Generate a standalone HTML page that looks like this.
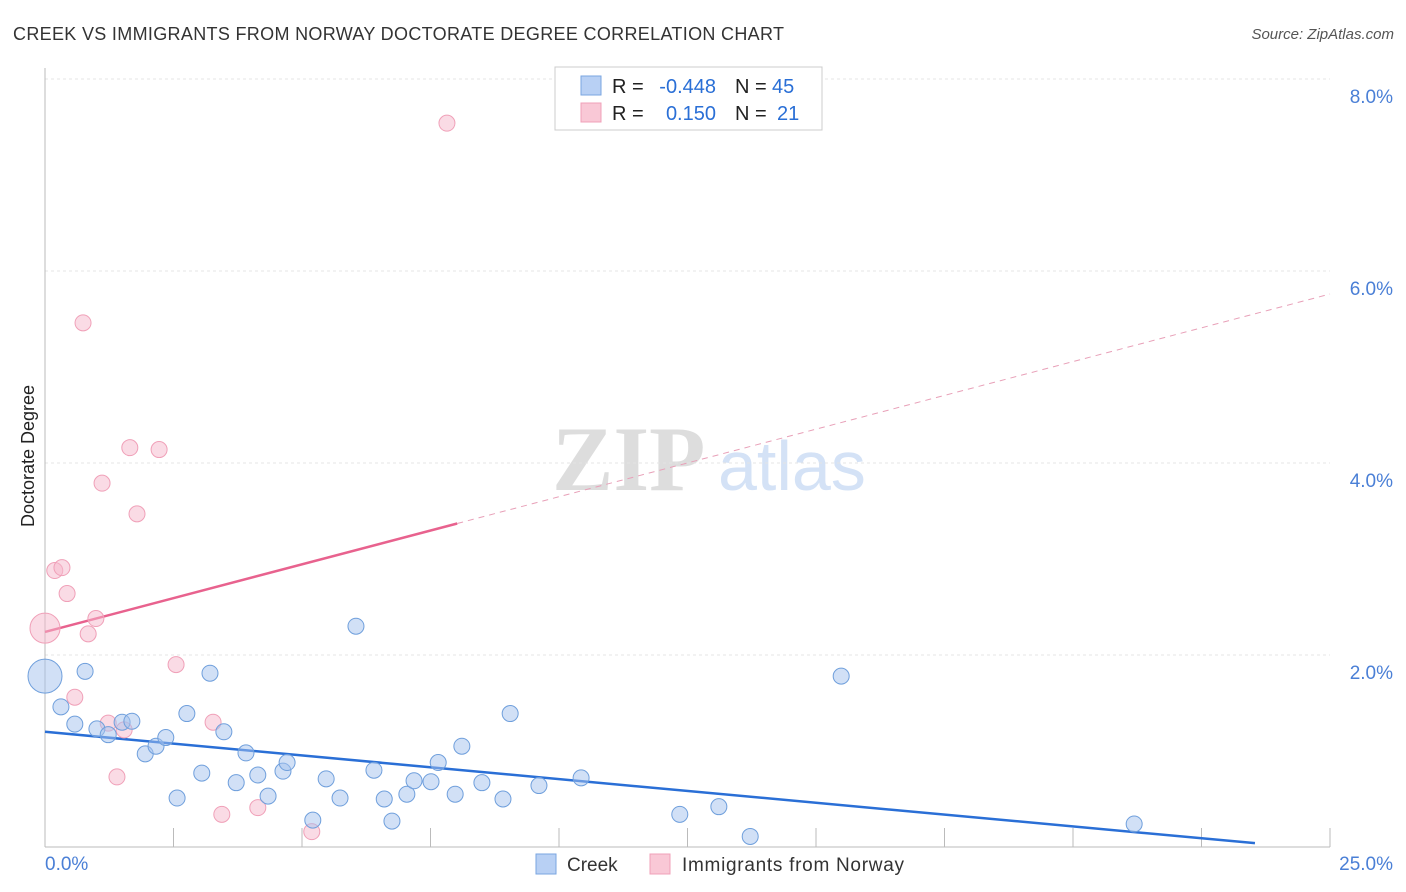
<!DOCTYPE html>
<html><head><meta charset="utf-8"><style>
body{margin:0;background:#fff;font-family:"Liberation Sans",sans-serif;}
</style></head><body>
<svg id="chart" width="1406" height="892" xmlns="http://www.w3.org/2000/svg" style="display:block">
<text x="13" y="40" font-size="18" fill="#333" textLength="771">CREEK VS IMMIGRANTS FROM NORWAY DOCTORATE DEGREE CORRELATION CHART</text>
<text x="1394" y="39" font-size="15" fill="#555" text-anchor="end" font-style="italic">Source: ZipAtlas.com</text>
<text x="552" y="490" font-size="92" fill="#ddd" font-family="Liberation Serif" font-weight="bold">ZIP</text>
<text x="718" y="490" font-size="70" fill="#d4e2f6">atlas</text>
<text transform="translate(34,456) rotate(-90)" font-size="18" fill="#222" text-anchor="middle">Doctorate Degree</text>
<g id="grid"></g><g id="trends"></g><g id="points"></g>
<g>
<rect x="555" y="67" width="267" height="63" fill="#fff" stroke="#ccc"/>
<rect x="581" y="76" width="20" height="19" fill="#b8d0f4" stroke="#7aa6e0"/>
<rect x="581" y="103" width="20" height="19" fill="#f9c8d6" stroke="#f0a0b8"/>
<text x="612" y="93" font-size="20" fill="#222">R =</text>
<text x="716" y="93" font-size="20" fill="#2a6fd6" text-anchor="end">-0.448</text>
<text x="735" y="93" font-size="20" fill="#222">N =</text>
<text x="772" y="93" font-size="20" fill="#2a6fd6">45</text>
<text x="612" y="120" font-size="20" fill="#222">R =</text>
<text x="716" y="120" font-size="20" fill="#2a6fd6" text-anchor="end">0.150</text>
<text x="735" y="120" font-size="20" fill="#222">N =</text>
<text x="777" y="120" font-size="20" fill="#2a6fd6">21</text>
</g>
<g>
<rect x="536" y="854" width="20" height="20" fill="#b8d0f4" stroke="#7aa6e0"/>
<text x="567" y="871" font-size="19" fill="#333">Creek</text>
<rect x="650" y="854" width="20" height="20" fill="#f9c8d6" stroke="#f0a0b8"/>
<text x="682" y="871" font-size="19" fill="#333" textLength="222">Immigrants from Norway</text>
</g>
</svg>
<script>
const blueX=[0,0.78,0.31,0.58,1.01,1.23,1.50,1.69,1.95,2.16,2.35,2.57,2.76,3.05,3.21,3.48,3.72,3.91,4.14,4.34,4.63,4.71,5.21,5.47,5.74,6.05,6.40,6.60,6.75,7.04,7.18,7.51,7.65,7.98,8.11,8.50,8.91,9.05,9.61,10.43,12.35,13.11,13.72,15.49,21.19];
const blueY=[1.78,1.83,1.46,1.28,1.23,1.17,1.30,1.31,0.97,1.05,1.14,0.51,1.39,0.77,1.81,1.20,0.67,0.98,0.75,0.53,0.79,0.88,0.28,0.71,0.51,2.30,0.80,0.50,0.27,0.55,0.69,0.68,0.88,0.55,1.05,0.67,0.50,1.39,0.64,0.72,0.34,0.42,0.11,1.78,0.24];
const pinkX=[7.82,0.74,1.65,2.22,1.11,1.79,0.19,0.33,0.43,0.99,0.84,0,2.55,0.58,1.23,1.54,3.27,1.40,4.14,3.44,5.19];
const pinkY=[7.54,5.46,4.16,4.14,3.79,3.47,2.88,2.91,2.64,2.38,2.22,2.28,1.90,1.56,1.29,1.22,1.30,0.73,0.41,0.34,0.16];
const yTicks=[2,4,6,8];
const xTickLabels=["0.0%","25.0%"];
const blueTrend=[[0,1.20],[23.54,0.04]];
const pinkTrend=[[0,2.24],[8.02,3.37],[25,5.76]];
const NS="http://www.w3.org/2000/svg";
const X=v=>45+v/25*1285, Y=v=>847-v*96;
function mk(tag,at,parent){const e=document.createElementNS(NS,tag);for(const k in at)e.setAttribute(k,at[k]);document.getElementById(parent).appendChild(e);return e;}
let e;
yTicks.forEach(t=>{e=mk('line',{x1:45,x2:1330,y1:Y(t),y2:Y(t),stroke:'#e4e4e4','stroke-dasharray':'3,3'},'grid');


e=mk('text',{x:1393,y:Y(t)+24,'font-size':19,fill:'#4a7fd6','text-anchor':'end'},'grid');e.textContent=t.toFixed(1)+'%';

});
e=mk('line',{x1:45,x2:45,y1:68,y2:847,stroke:'#bbb'},'grid');


e=mk('line',{x1:45,x2:1330,y1:847,y2:847,stroke:'#bbb'},'grid');


for(let i=1;i<=10;i++){e=mk('line',{x1:X(i*2.5),x2:X(i*2.5),y1:828,y2:847,stroke:'#bbb'},'grid');

}
e=mk('text',{x:45,y:870,'font-size':19,fill:'#4a7fd6'},'grid');e.textContent=xTickLabels[0];


e=mk('text',{x:1393,y:870,'font-size':19,fill:'#4a7fd6','text-anchor':'end'},'grid');e.textContent=xTickLabels[1];


e=mk('line',{x1:X(blueTrend[0][0]),y1:Y(blueTrend[0][1]),x2:X(blueTrend[1][0]),y2:Y(blueTrend[1][1]),stroke:'#2a6fd6','stroke-width':2.5},'trends');


e=mk('line',{x1:X(pinkTrend[0][0]),y1:Y(pinkTrend[0][1]),x2:X(pinkTrend[1][0]),y2:Y(pinkTrend[1][1]),stroke:'#e8628e','stroke-width':2.5},'trends');


e=mk('line',{x1:X(pinkTrend[1][0]),y1:Y(pinkTrend[1][1]),x2:X(pinkTrend[2][0]),y2:Y(pinkTrend[2][1]),stroke:'#e8a0b8','stroke-width':1,'stroke-dasharray':'6,5'},'trends');


pinkX.forEach((v,i)=>{e=mk('circle',{cx:X(v),cy:Y(pinkY[i]),r:i==11?15:8,fill:'rgba(246,184,204,0.5)',stroke:'#f0a0b8','stroke-width':1},'points');

});
blueX.forEach((v,i)=>{e=mk('circle',{cx:X(v),cy:Y(blueY[i]),r:i==0?17:8,fill:'rgba(164,194,238,0.5)',stroke:'#6f9fdc','stroke-width':1},'points');

});
</script>
</body></html>
